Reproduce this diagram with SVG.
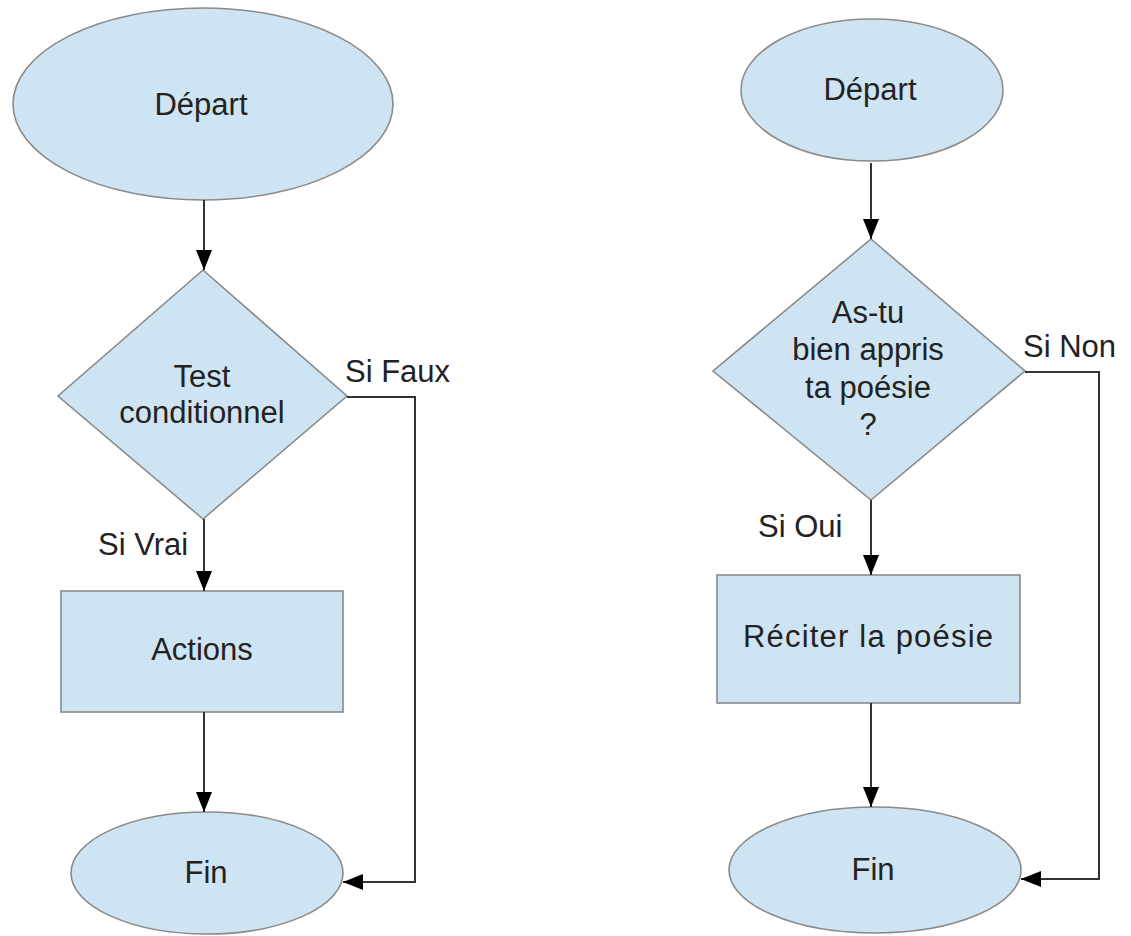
<svg xmlns="http://www.w3.org/2000/svg" width="1131" height="936" viewBox="0 0 1131 936">
  <defs>
    <style>
      .shape { fill: #cfe4f2; stroke: #8a8a8a; stroke-width: 1.6; }
      .label { font-family: "Liberation Sans", Arial, sans-serif; font-size: 31px; fill: #222; }
      .mid { text-anchor: middle; }
      .edge { fill: none; stroke: #333; stroke-width: 2; }
    </style>
    <marker id="arrow" viewBox="0 0 20 16" refX="20" refY="8" markerWidth="20" markerHeight="16" markerUnits="userSpaceOnUse" orient="auto">
      <path d="M0,0 L20,8 L0,16 Z" fill="#000"/>
    </marker>
  </defs>
  <rect width="1131" height="936" fill="#fff"/>

  <!-- Left flowchart: generic conditional -->
  <g id="l-depart">
    <ellipse class="shape" cx="203" cy="104" rx="190" ry="96"/>
    <text class="label mid" x="201" y="115">Départ</text>
  </g>
  <g id="l-test">
    <polygon class="shape" points="203,270 347,396 203,519 58,396"/>
    <text class="label mid" x="202" y="387">Test</text>
    <text class="label mid" x="202" y="423">conditionnel</text>
  </g>
  <g id="l-actions">
    <rect class="shape" x="61" y="591" width="282" height="121"/>
    <text class="label mid" x="202" y="660">Actions</text>
  </g>
  <g id="l-fin">
    <ellipse class="shape" cx="207" cy="873" rx="136" ry="61"/>
    <text class="label mid" x="206" y="883">Fin</text>
  </g>

  <!-- Right flowchart: poem example -->
  <g id="r-depart">
    <ellipse class="shape" cx="872" cy="90" rx="131" ry="71"/>
    <text class="label mid" x="870" y="100">Départ</text>
  </g>
  <g id="r-test">
    <polygon class="shape" points="871,239 1025,371 871,500 713,371"/>
    <text class="label mid" x="868" y="323">As-tu</text>
    <text class="label mid" x="868" y="360">bien appris</text>
    <text class="label mid" x="868" y="398">ta poésie</text>
    <text class="label mid" x="868" y="435">?</text>
  </g>
  <g id="r-reciter">
    <rect class="shape" x="717" y="575" width="303" height="128"/>
    <text class="label mid" x="868" y="647" textLength="250">Réciter la poésie</text>
  </g>
  <g id="r-fin">
    <ellipse class="shape" cx="875" cy="870" rx="146" ry="63"/>
    <text class="label mid" x="873" y="880">Fin</text>
  </g>

  <!-- Connectors -->
  <g id="connectors">
    <path class="edge" d="M204,200 V270" marker-end="url(#arrow)"/>
    <path class="edge" d="M204,519 V591" marker-end="url(#arrow)"/>
    <path class="edge" d="M204,712 V812" marker-end="url(#arrow)"/>
    <path class="edge" d="M347,397 H415 V882 H343" marker-end="url(#arrow)"/>

    <path class="edge" d="M871,163 V239" marker-end="url(#arrow)"/>
    <path class="edge" d="M871,500 V575" marker-end="url(#arrow)"/>
    <path class="edge" d="M871,703 V807" marker-end="url(#arrow)"/>
    <path class="edge" d="M1025,372 H1099 V879 H1021" marker-end="url(#arrow)"/>

    <text class="label" x="345" y="382">Si Faux</text>
    <text class="label" x="98" y="555">Si Vrai</text>
    <text class="label" x="1023" y="357">Si Non</text>
    <text class="label" x="758" y="537">Si Oui</text>
  </g>
</svg>
